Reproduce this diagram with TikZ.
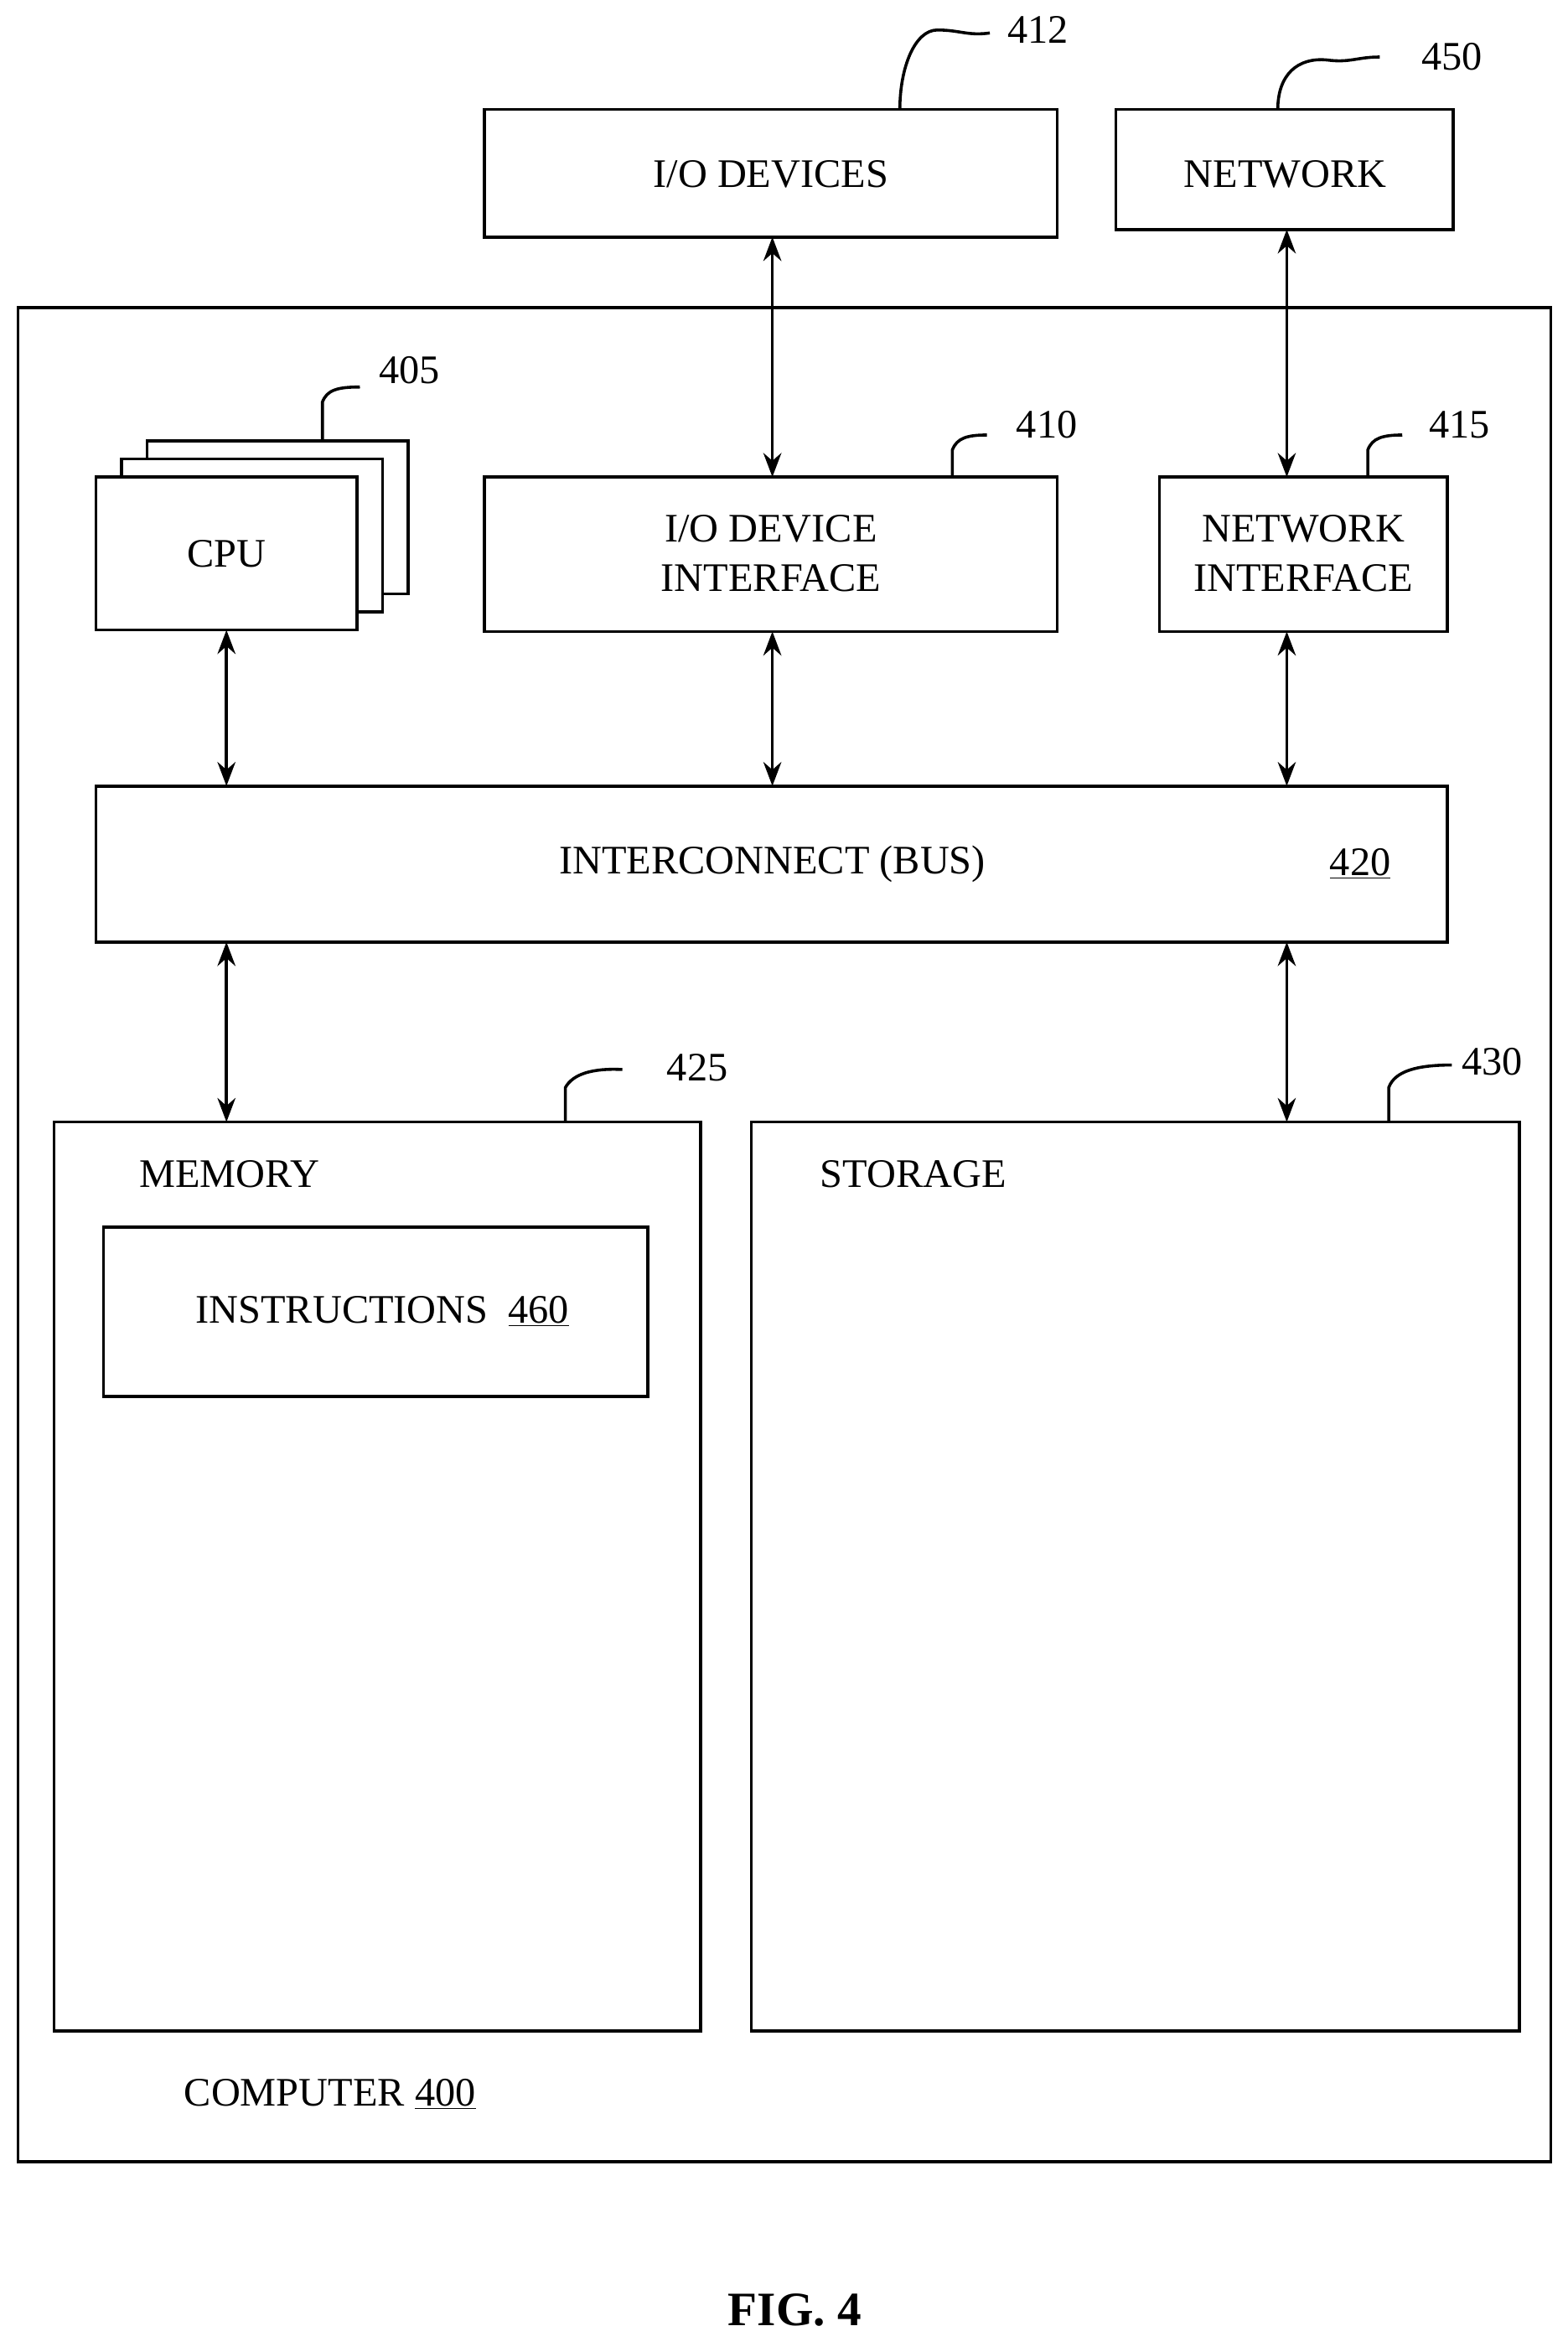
\documentclass[tikz,border=0pt]{standalone}
\usepackage{fontspec}
\setmainfont{Liberation Serif}
\usetikzlibrary{arrows.meta}
\begin{document}
\begin{tikzpicture}[x=1pt,y=1pt,yscale=-1,
  box/.style={draw,line width=2pt,fill=white},
  lbl/.style={font=\fontsize{27}{33}\selectfont,align=center,inner sep=0pt},
  link/.style={line width=2pt,{Stealth[length=16pt,width=12pt]}-{Stealth[length=16pt,width=12pt]}},
  lead/.style={line width=2pt}]
\useasboundingbox (0,0) rectangle (1045,1568);

%Outer computer box
\draw [box] (12,205) rectangle (1034,1441);
%Top boxes
\draw [box] (323,73) rectangle (705,158);
\node [lbl] (iodev) at (514,116) {I/O DEVICES};
\draw [box] (744,73) rectangle (969,153);
\node [lbl] (net) at (857,116) {NETWORK};
%CPU stack
\draw [box] (98,294) rectangle (272,396);
\draw [box] (81,306) rectangle (255,408);
\draw [box] (64,318) rectangle (238,420);
\node [lbl] (cpu) at (151,369) {CPU};
%Interfaces
\draw [box] (323,318) rectangle (705,421);
\node [lbl] (ioif) at (514,369) {I/O DEVICE\\INTERFACE};
\draw [box] (773,318) rectangle (965,421);
\node [lbl] (netif) at (869,369) {NETWORK\\INTERFACE};
%Bus
\draw [box] (64,524) rectangle (965,628);
\node [lbl] (bus) at (515,576) {INTERCONNECT (BUS)};
\node [lbl] (busnum) at (907,576) {\underline{420}};
%Memory and storage
\draw [box] (36,748) rectangle (467,1354);
\node [lbl] (mem) at (153,783) {MEMORY};
\draw [box] (69,818) rectangle (432,931);
\node [lbl] (instr) at (255,874) {INSTRUCTIONS\ \ \underline{460}};
\draw [box] (501,748) rectangle (1013,1354);
\node [lbl] (stor) at (609,783) {STORAGE};
\node [lbl] (comp) at (220,1396) {COMPUTER \underline{400}};
\node [font=\fontsize{32}{38}\selectfont\bfseries,inner sep=0pt] (fig) at (530,1540) {FIG. 4};

%Connectors
\coordinate (a1) at (515,158); \coordinate (a2) at (515,318);
\coordinate (b1) at (858,153); \coordinate (b2) at (858,318);
\coordinate (c1) at (151,420); \coordinate (c2) at (151,524);
\coordinate (d1) at (515,421); \coordinate (d2) at (515,524);
\coordinate (e1) at (858,421); \coordinate (e2) at (858,524);
\coordinate (f1) at (151,628); \coordinate (f2) at (151,748);
\coordinate (g1) at (858,628); \coordinate (g2) at (858,748);
\foreach \s/\t in {a1/a2,b1/b2,c1/c2,d1/d2,e1/e2,f1/f2,g1/g2}
  \draw [link] (\s) -- (\t);

%Reference numerals
\node [lbl] (n412) at (692,20) {412};
\draw [lead] (600,73) .. controls (600,45) and (610,20) .. (625,20) .. controls (640,20) and (645,24) .. (660,22);
\node [lbl] (n450) at (968,38) {450};
\draw [lead] (852,73) .. controls (852,50) and (865,38) .. (885,40) .. controls (900,42) and (905,38) .. (920,38);
\node [lbl] (n405) at (273,247) {405};
\draw [lead] (215,294) -- (215,268) .. controls (218,260) and (225,258) .. (240,258);
\node [lbl] (n410) at (698,283) {410};
\draw [lead] (635,318) -- (635,300) .. controls (638,292) and (645,290) .. (658,290);
\node [lbl] (n415) at (973,283) {415};
\draw [lead] (912,318) -- (912,300) .. controls (915,292) and (922,290) .. (935,290);
\node [lbl] (n425) at (465,712) {425};
\draw [lead] (377,748) -- (377,725) .. controls (382,716) and (395,712) .. (415,713);
\node [lbl] (n430) at (995,708) {430};
\draw [lead] (926,748) -- (926,725) .. controls (930,714) and (945,710) .. (968,710);
\end{tikzpicture}
\end{document}
